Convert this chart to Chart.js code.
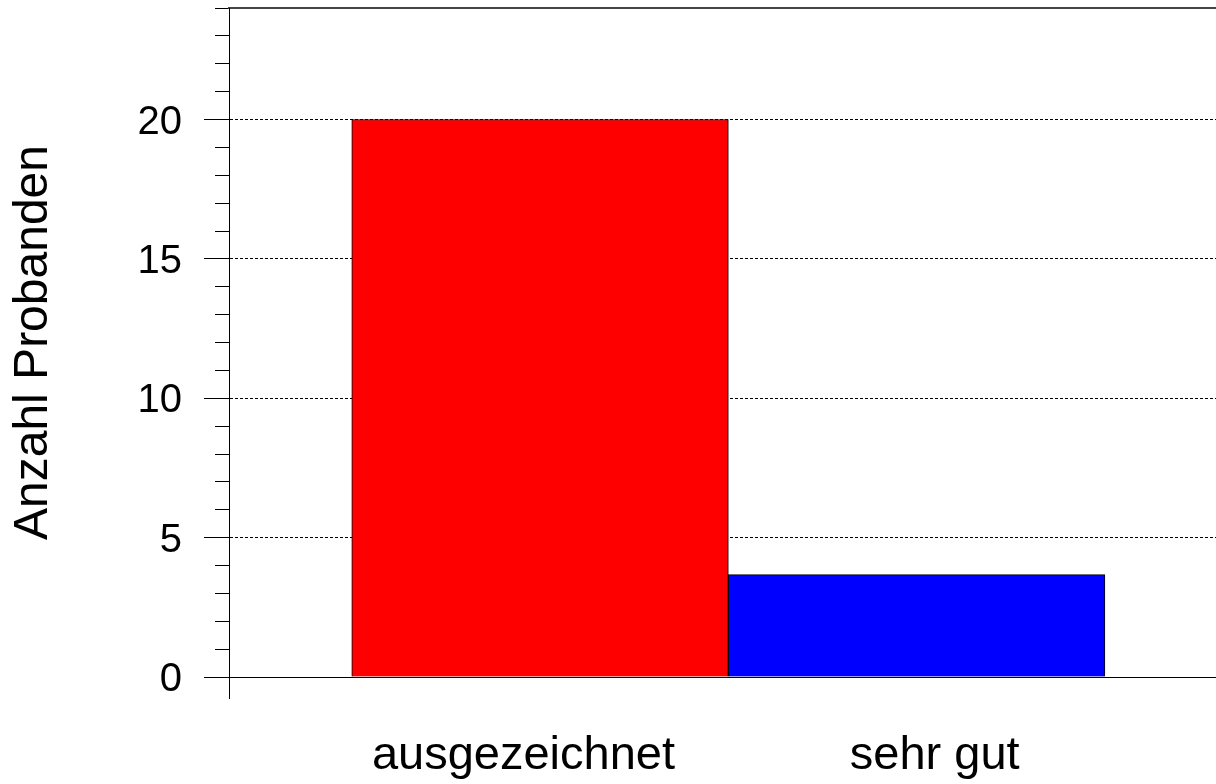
<!DOCTYPE html>
<html>
<head>
<meta charset="utf-8">
<script src="https://cdn.jsdelivr.net/npm/chart.js@4/dist/chart.umd.min.js"></script>
<style>
  body { margin: 0; background: #fff; }
  canvas { display: block; }
</style>
</head>
<body>
<canvas id="chart" width="1216" height="784"></canvas>
<script>
// ---------------- DATA ----------------
const categories = ["ausgezeichnet", "sehr gut"];
const counts = [20, 3.67];
const barColors = ["#ff0000", "#0000ff"];
const yMajorTicks = [0, 5, 10, 15, 20];
const yMax = 24;
const yTitle = "Anzahl Probanden";

// ---------------- CHART ----------------
const FONT = "'Liberation Sans', Arial, sans-serif";
const points = categories.map((c, i) => ({ x: i + 1, y: counts[i] }));

// no automatic label padding around the plot
function noPad(s) {
    s.paddingTop = 0;
    s.paddingBottom = 0;
    s.paddingLeft = 0;
    s.paddingRight = 0;
}

new Chart(document.getElementById("chart"), {
    type: "bar",
    data: {
        datasets: [{
            data: points,
            xAxisID: "x",
            yAxisID: "y",
            backgroundColor: barColors,
            borderColor: "#000",
            borderWidth: 1,
            barPercentage: 1,
            categoryPercentage: 1
        }]
    },
    options: {
        responsive: false,
        animation: false,
        layout: { autoPadding: false, padding: { top: 8, right: 0, bottom: 0, left: 0 } },
        plugins: { legend: { display: false }, tooltip: { enabled: false } },
        scales: {
            x: {
                type: "linear",
                position: "bottom",
                weight: 1,
                offset: false,
                min: 0.174,
                max: 2.795,
                // label spots under the bars, as placed in the original
                afterBuildTicks: s => { s.ticks = [{ value: 0.956 }, { value: 2.048 }]; },
                afterFit: s => { s.height = 107; noPad(s); },
                grid: { offset: false, drawOnChartArea: false, tickLength: 0, tickColor: "transparent" },
                border: { color: "#000", width: 1 },
                ticks: {
                    autoSkip: false,
                    maxRotation: 0,
                    padding: 51,
                    color: "#000",
                    font: { family: FONT, size: 47 },
                    callback: (v, i) => categories[i]
                }
            },
            // y axis line running on below the zero line
            xEdge: {
                type: "linear",
                position: "bottom",
                weight: 0,
                offset: false,
                min: 0,
                max: 1,
                afterBuildTicks: s => { s.ticks = [{ value: 0 }]; },
                afterFit: s => { s.height = 0; noPad(s); },
                grid: { offset: false, drawOnChartArea: false, tickLength: 22, tickColor: "#000" },
                border: { display: false },
                ticks: { display: false }
            },
            xTop: {
                type: "linear",
                position: "top",
                offset: false,
                afterFit: s => { s.height = 0; noPad(s); },
                grid: { display: false, offset: false },
                ticks: { display: false },
                border: { color: "#444", width: 2 }
            },
            y: {
                position: "left",
                weight: 1,
                min: 0,
                max: yMax,
                afterBuildTicks: s => { s.ticks = yMajorTicks.map(v => ({ value: v })); },
                afterFit: s => { s.width = 229; noPad(s); },
                grid: {
                    color: "#000",
                    lineWidth: 1,
                    tickLength: 25,
                    tickColor: "#000"
                },
                border: { color: "#000", width: 1, dash: [3, 2] },
                ticks: {
                    padding: 22,
                    labelOffset: 3,
                    color: "#000",
                    font: { family: FONT, size: 40 }
                },
                title: {
                    display: true,
                    text: yTitle,
                    color: "#000",
                    font: { family: FONT, size: 48 },
                    padding: { top: 5, bottom: 0 }
                }
            },
            yMinor: {
                position: "left",
                weight: 0,
                min: 0,
                max: yMax,
                afterFit: s => { s.width = 0; noPad(s); },
                grid: {
                    drawOnChartArea: false,
                    tickLength: 14,
                    tickColor: "#000"
                },
                border: { display: false },
                ticks: { display: false, stepSize: 1 }
            }
        }
    }
});
</script>
</body>
</html>
